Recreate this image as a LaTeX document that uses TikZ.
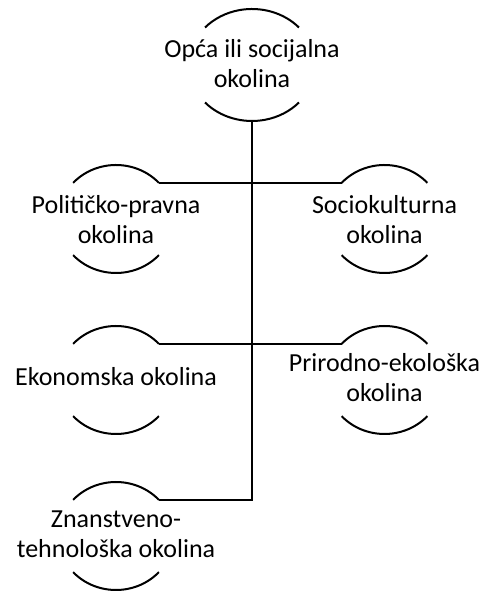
\documentclass[tikz,border=0pt]{standalone}
\usepackage{fontspec}
\setmainfont{Carlito}
\begin{document}
\begin{tikzpicture}[x=1pt,y=1pt,
  arcline/.style={line width=2pt},
  conn/.style={line width=2.6pt},
  lbl/.style={inner sep=0pt, align=center, font=\fontsize{26}{30}\selectfont}]
\useasboundingbox[fill=white] (0,0) rectangle (484,593);
\newcommand\arcpair[4]{%
  \coordinate (#1) at #2;
  \coordinate (#1-tl) at ([shift={(138:#3pt and #4pt)}]#1);
  \coordinate (#1-tr) at ([shift={(42:#3pt and #4pt)}]#1);
  \coordinate (#1-bl) at ([shift={(222:#3pt and #4pt)}]#1);
  \coordinate (#1-br) at ([shift={(318:#3pt and #4pt)}]#1);
  \coordinate (#1-b) at ([shift={(270:#3pt and #4pt)}]#1);
  \draw[arcline] (#1-tr) arc[start angle=42, end angle=138, x radius=#3pt, y radius=#4pt];
  \draw[arcline] (#1-bl) arc[start angle=222, end angle=318, x radius=#3pt, y radius=#4pt];
}
% arcs
\arcpair{topc}{(252,528)}{63.2}{56}
\arcpair{polc}{(116,374)}{57.7}{54}
\arcpair{socc}{(384.5,374)}{57.7}{54}
\arcpair{ekoc}{(116,213)}{57.7}{54}
\arcpair{pric}{(384.5,213)}{57.7}{54}
\arcpair{znac}{(116,57)}{57.7}{54}
% texts
\node[lbl] (top) at (252,526) {\strut Opća ili socijalna\\\strut okolina};
\node[lbl] (pol) at (116,370) {\strut Političko-pravna\\\strut okolina};
\node[lbl] (soc) at (384.5,370) {\strut Sociokulturna\\\strut okolina};
\node[lbl] (eko) at (116,213) {\strut Ekonomska okolina};
\node[lbl] (pri) at (384.5,212) {\strut Prirodno-ekološka\\\strut okolina};
\node[lbl] (zna) at (116,56) {\strut Znanstveno-\\\strut tehnološka okolina};
% connectors
\draw[conn] (topc-b) -- (topc-b |- znac-tr) -- (znac-tr);
\draw[conn] (polc-tr) -- (socc-tl);
\draw[conn] (ekoc-tr) -- (pric-tl);
\end{tikzpicture}
\end{document}
